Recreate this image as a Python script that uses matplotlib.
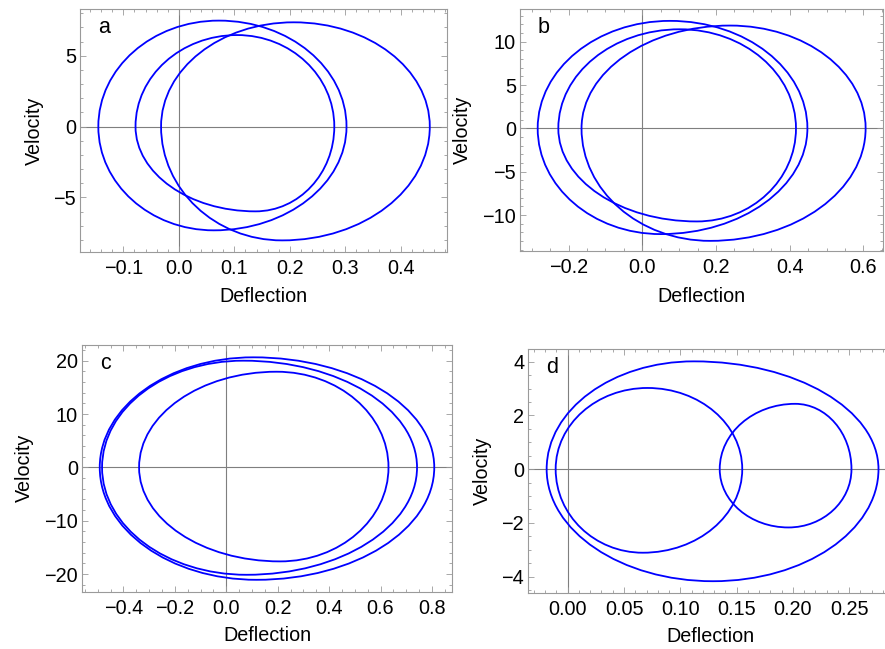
import matplotlib
matplotlib.use("Agg")
import matplotlib.pyplot as plt
from matplotlib.path import Path
from matplotlib.patches import PathPatch
from matplotlib.ticker import MultipleLocator, FuncFormatter

plt.rcParams['font.family'] = ['Liberation Sans', 'DejaVu Sans']

# ---- data: each loop described by its extreme points ----
# panel a
a_left  = [-0.145, -0.078, -0.032]
a_right = [0.302, 0.280, 0.452]
a_top   = [7.48, 6.46, 7.36]
a_top_x = [0.072, 0.105, 0.207]
a_bot   = [-7.33, -5.99, -8.04]
a_bot_x = [0.063, 0.138, 0.186]
# panel b
b_left  = [-0.284, -0.228, -0.165]
b_right = [0.448, 0.417, 0.606]
b_top   = [12.40, 11.43, 11.86]
b_top_x = [0.075, 0.102, 0.238]
b_bot   = [-12.2, -10.74, -12.98]
b_bot_x = [0.050, 0.148, 0.184]
# panel c
c_left  = [-0.492, -0.483, -0.339]
c_right = [0.809, 0.742, 0.631]
c_top   = [20.63, 20.0, 17.93]
c_top_x = [0.105, 0.066, 0.196]
c_bot   = [-21.07, -20.13, -17.62]
c_bot_x = [0.118, 0.079, 0.209]
# panel d
d_left  = [-0.0187, -0.0107, 0.135]
d_right = [0.276, 0.155, 0.252]
d_top   = [4.01, 3.02, 2.43]
d_top_x = [0.112, 0.0708, 0.202]
d_bot   = [-4.17, -3.11, -2.17]
d_bot_x = [0.129, 0.0667, 0.196]

letters = ['a', 'b', 'c', 'd']
x_label = 'Deflection'
y_label = 'Velocity'

panels = [
    dict(L=a_left, R=a_right, T=a_top, TX=a_top_x, B=a_bot, BX=a_bot_x,
         xlim=(-0.178, 0.483), ylim=(-8.86, 8.30), xmaj=0.1, xmin=0.02, ymaj=5, ymin=1,
         xdec=1, rect=[80, 9, 447, 252], ylc=-0.098, xlc=-0.142),
    dict(L=b_left, R=b_right, T=b_top, TX=b_top_x, B=b_bot, BX=b_bot_x,
         xlim=(-0.332, 0.654), ylim=(-14.15, 13.77), xmaj=0.2, xmin=0.05, ymaj=5, ymin=1,
         xdec=1, rect=[520, 9, 883.3, 251], ylc=-0.132, xlc=-0.147),
    dict(L=c_left, R=c_right, T=c_top, TX=c_top_x, B=c_bot, BX=c_bot_x,
         xlim=(-0.561, 0.878), ylim=(-23.3, 22.94), xmaj=0.2, xmin=0.05, ymaj=10, ymin=2,
         xdec=1, rect=[82, 345, 452, 591.7], ylc=-0.130, xlc=-0.141),
    dict(L=d_left, R=d_right, T=d_top, TX=d_top_x, B=d_bot, BX=d_bot_x,
         xlim=(-0.035, 0.288), ylim=(-4.62, 4.47), xmaj=0.05, xmin=0.01, ymaj=2, ymin=0.5,
         xdec=2, rect=[528.3, 349, 892, 593.3], ylc=-0.099, xlc=-0.136),
]

W, H = 885, 649
fig = plt.figure(figsize=(W / 100, H / 100), dpi=100)

K = 0.5523
frame_col = '#9a9a9a'
axis_col = '#7f7f7f'


def loop_path(xl, xt, vt, xr, xb, vb):
    verts = [
        (xl, 0),
        (xl, K * vt), (xt - K * (xt - xl), vt), (xt, vt),
        (xt + K * (xr - xt), vt), (xr, K * vt), (xr, 0),
        (xr, K * vb), (xb + K * (xr - xb), vb), (xb, vb),
        (xb - K * (xb - xl), vb), (xl, K * vb), (xl, 0),
    ]
    codes = [Path.MOVETO] + [Path.CURVE4] * 12
    return Path(verts, codes)


def fmt_factory(dec):
    def f(v, pos):
        if abs(v) < 1e-12:
            v = 0.0
        s = f'{v:.{dec}f}'
        return s.replace('-', '\u2212')
    return f


def yfmt(v, pos):
    if abs(v) < 1e-12:
        v = 0.0
    s = f'{v:g}'
    return s.replace('-', '\u2212')


for p, letter in zip(panels, letters):
    x0, y0, x1, y1 = p['rect']
    ax = fig.add_axes([x0 / W, 1 - y1 / H, (x1 - x0) / W, (y1 - y0) / H])
    ax.set_xlim(*p['xlim'])
    ax.set_ylim(*p['ylim'])
    ax.axhline(0, color=axis_col, lw=0.8, zorder=1)
    ax.axvline(0, color=axis_col, lw=0.8, zorder=1)
    for xl, xr, vt, xt, vb, xb in zip(p['L'], p['R'], p['T'], p['TX'], p['B'], p['BX']):
        ax.add_patch(PathPatch(loop_path(xl, xt, vt, xr, xb, vb), fill=False,
                               edgecolor='#0000ff', lw=1.3, zorder=3))
    ax.xaxis.set_major_locator(MultipleLocator(p['xmaj']))
    ax.xaxis.set_minor_locator(MultipleLocator(p['xmin']))
    ax.yaxis.set_major_locator(MultipleLocator(p['ymaj']))
    ax.yaxis.set_minor_locator(MultipleLocator(p['ymin']))
    ax.xaxis.set_major_formatter(FuncFormatter(fmt_factory(p['xdec'])))
    ax.yaxis.set_major_formatter(FuncFormatter(yfmt))
    ax.tick_params(which='both', direction='in', top=True, right=True, color=frame_col,
                   width=0.6)
    ax.tick_params(which='major', length=4, labelsize=14.3)
    ax.tick_params(which='minor', length=2)
    ax.tick_params(axis='x', which='major', pad=5)
    ax.tick_params(axis='y', which='major', pad=3)
    for s in ax.spines.values():
        s.set_color(frame_col)
        s.set_linewidth(0.8)
    ax.set_xlabel(x_label, fontsize=14.2)
    ax.set_ylabel(y_label, fontsize=14.2)
    ax.xaxis.set_label_coords(0.5, p['xlc'])
    ax.yaxis.set_label_coords(p['ylc'], 0.5)
    ax.annotate(letter, xy=(0, 1), xycoords='axes fraction', xytext=(18, -24),
                textcoords='offset pixels', va='baseline', ha='left', fontsize=15.5)

fig.savefig('out.png', dpi=100)
